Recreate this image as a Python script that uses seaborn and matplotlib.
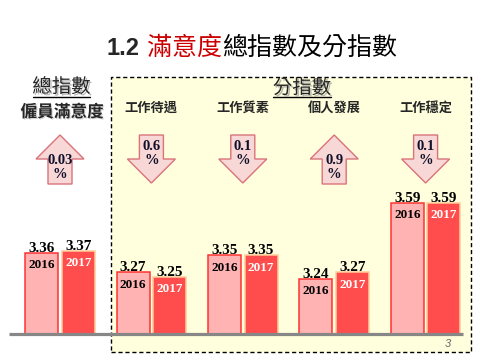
import matplotlib
matplotlib.use("Agg")
import matplotlib.pyplot as plt
import matplotlib.patheffects as pe
from matplotlib.patches import Rectangle, Polygon
import seaborn as sns
import pandas as pd

# ---------------- data ----------------
categories = ["僱員滿意度", "工作待遇", "工作質素", "個人發展", "工作穩定"]
years = ["2016", "2017"]
values_2016 = [3.36, 3.27, 3.35, 3.24, 3.59]
values_2017 = [3.37, 3.25, 3.35, 3.27, 3.59]
change_labels = ["0.03", "0.6", "0.1", "0.9", "0.1"]
change_dirs = ["up", "down", "down", "up", "down"]
title_parts = ["1.2", "滿意度", "總指數及分指數"]
header_total = "總指數"
header_sub = "分指數"
page_no = "3"

df = pd.DataFrame({
    "category": categories * 2,
    "year": [years[0]] * len(categories) + [years[1]] * len(categories),
    "value": values_2016 + values_2017,
})

sns.set_theme(style="white")
CJK = ["Noto Sans CJK TC", "DejaVu Sans"]
plt.rcParams["font.family"] = CJK
SERIF = ["Liberation Serif", "DejaVu Serif"]

W, H = 480, 360
fig = plt.figure(figsize=(4.8, 3.6), dpi=100)
fig.patch.set_facecolor("white")

# background dashed box (below bars)
box = Rectangle((111 / W, 1 - 352 / H), 360 / W, 275 / H, transform=fig.transFigure,
                facecolor="#FFFFDD", edgecolor="black", linewidth=1,
                linestyle=(0, (3, 2)), zorder=0.5)
fig.add_artist(box)

# bar axes
base_px = 334
px_per_unit = 217
y0 = 2.986
ax = fig.add_axes([0, (H - base_px) / H, 1, base_px / H], zorder=1)
ax.patch.set_alpha(0)
palette = {"2016": "#FFB3B3", "2017": "#FF4D4D"}
sns.barplot(data=df, x="category", y="value", hue="year", order=categories,
            hue_order=years, palette=palette, width=0.8, gap=0.1,
            saturation=1, ax=ax, legend=False, errorbar=None)
spacing = 91.4
ax.set_xlim(-60 / spacing, (W - 60) / spacing)
ax.set_ylim(y0, y0 + base_px / px_per_unit)
ax.axis("off")

edge_cols = {"2016": "#FF3333", "2017": "#FFCC99"}
for yr, cont in zip(years, ax.containers):
    for bar in cont:
        bar.set_edgecolor(edge_cols[yr])
        bar.set_linewidth(1.1)
        cx = bar.get_x() + bar.get_width() / 2
        top = bar.get_height()
        ax.annotate(f"{top:.2f}", (cx, top), xytext=(0, 0.8), textcoords="offset points",
                    ha="center", va="baseline", fontsize=11, fontweight="bold",
                    family=SERIF, color="black")
        ax.annotate(yr, (cx, top), xytext=(0, -9), textcoords="offset points",
                    ha="center", va="center", fontsize=9.5, fontweight="bold",
                    family=SERIF, color="black" if yr == "2016" else "white")

# overlay axes in pixel coordinates
bg = fig.add_axes([0, 0, 1, 1], zorder=2)
bg.patch.set_alpha(0)
bg.set_xlim(0, W)
bg.set_ylim(H, 0)
bg.axis("off")

# baseline
bg.plot([9, 463], [334, 334], color="#878787", lw=2.3, solid_capstyle="butt")

# title
renderer = fig.canvas.get_renderer()
x = 107
t = bg.text(x, 55, title_parts[0], fontsize=17, fontweight="bold",
            family=["Liberation Sans", "DejaVu Sans"], va="baseline", ha="left")
bb = t.get_window_extent(renderer)
x = bb.x1 + 7
t = bg.text(x, 55, title_parts[1], fontsize=18, color="#CC0000", va="baseline", ha="left")
bb = t.get_window_extent(renderer)
x = bb.x1
bg.text(x, 55, title_parts[2], fontsize=18, color="black", va="baseline", ha="left")

# headers
shadow = [pe.withSimplePatchShadow(offset=(1.2, -1.2), shadow_rgbFace="#9a9a9a", alpha=0.7)]
bg.text(61.5, 87, header_total, fontsize=14, fontweight="medium", ha="center", va="center",
        path_effects=shadow)
bg.plot([33, 90], [96.5, 96.5], color="black", lw=1)
bg.text(302, 88, header_sub, fontsize=14, fontweight="medium", ha="center", va="center",
        path_effects=shadow)
bg.plot([273, 331], [96.5, 96.5], color="black", lw=1)

centers = [ax.transData.transform((i, 0))[0] for i in range(len(categories))]
for i, (cat, cx) in enumerate(zip(categories, centers)):
    if i == 0:
        bg.text(cx + 2, 112, cat, fontsize=12, fontweight="bold", ha="center", va="center",
                path_effects=[pe.withSimplePatchShadow(offset=(0.8, -0.8),
                                                       shadow_rgbFace="#bbbbbb", alpha=0.6)])
    else:
        bg.text(cx, 108, cat, fontsize=9.5, fontweight="bold", ha="center", va="center")

# arrows
hw, sw = 24, 12
for cx, lab, d in zip(centers, change_labels, change_dirs):
    if d == "up":
        pts = [(cx, 135), (cx + hw, 159), (cx + sw, 159), (cx + sw, 184),
               (cx - sw, 184), (cx - sw, 159), (cx - hw, 159)]
        ty1, ty2 = 161, 174
    else:
        pts = [(cx - sw, 135), (cx + sw, 135), (cx + sw, 159), (cx + hw, 159),
               (cx, 183), (cx - hw, 159), (cx - sw, 159)]
        ty1, ty2 = 146, 160
    bg.add_patch(Polygon(pts, closed=True, facecolor="#F8D7D7", edgecolor="#D9737A", lw=1))
    bg.text(cx, ty1, lab, fontsize=10.5, fontweight="bold", family=SERIF,
            color="#10102a", ha="center", va="center")
    bg.text(cx, ty2, "%", fontsize=10.5, fontweight="bold", family=SERIF,
            color="#10102a", ha="center", va="center")

bg.text(448, 344, page_no, fontsize=8, style="italic", color="#666666",
        family=["Liberation Sans", "DejaVu Sans"], ha="center", va="center")

fig.savefig("out.png", dpi=100)
